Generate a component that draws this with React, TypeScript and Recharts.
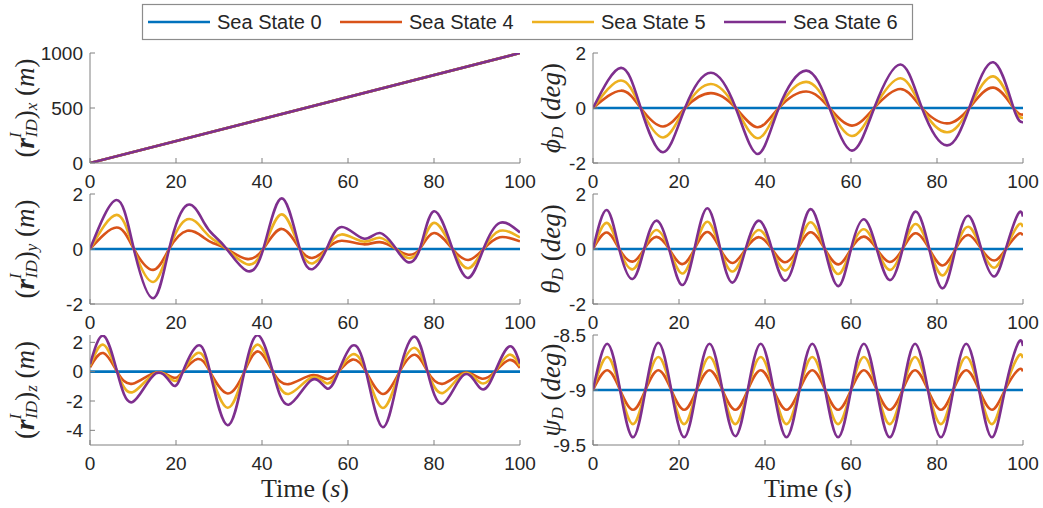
import React from 'react';
import { LineChart, Line, XAxis, YAxis } from 'recharts';

// series: sea states, MATLAB default colour order
const SERIES = [
    { name: 'Sea State 0', color: '#0072BD' },
    { name: 'Sea State 4', color: '#D95319' },
    { name: 'Sea State 5', color: '#EDB120' },
    { name: 'Sea State 6', color: '#7E2F8E' },
];

const TIME_TICKS = [0, 20, 40, 60, 80, 100];
const FLAT_T = [0, 100];

// (r_ID)_x
const X_T = [0, 100];
const X_SS0 = [0, 1000];
const X_SS4 = [0, 1000];
const X_SS5 = [0, 1000];
const X_SS6 = [0, 1000];

// (r_ID)_y
const Y_T = [0, 6.2, 10.2, 14.7, 18.4, 22.6, 26.4, 28.7, 31.8, 36.4, 40.3, 44.6, 48.8, 51.9, 55.0, 58.5, 63.6, 67.4, 71.2, 73.8, 76.7, 80.0, 84.3, 88.0, 91.5, 95.3, 100];
const Y_SS0 = [0, 0];
const Y_SS4 = [0, 0.78, 0, -0.76, 0, 0.66, 0.42, 0.21, 0, -0.36, 0, 0.73, 0, -0.32, 0, 0.3, 0.17, 0.25, 0, -0.2, 0, 0.58, 0, -0.4, 0, 0.43, 0.28];
const Y_SS5 = [0, 1.24, 0, -1.2, 0, 1.08, 0.68, 0.34, 0, -0.55, 0, 1.26, 0, -0.52, 0, 0.53, 0.27, 0.41, 0, -0.32, 0, 0.95, 0, -0.7, 0, 0.66, 0.42];
const Y_SS6 = [0, 1.78, 0, -1.79, 0, 1.6, 0.99, 0.51, 0, -0.79, 0, 1.84, 0, -0.72, 0, 0.8, 0.38, 0.58, 0, -0.47, 0, 1.37, 0, -1.05, 0, 0.95, 0.6];

// (r_ID)_z
const Z_T = [0, 3.1, 6.3, 9.9, 15.3, 19.3, 21.6, 25.0, 27.9, 32.0, 35.9, 39.1, 42.5, 46.2, 51.5, 55.1, 57.8, 61.0, 64.2, 68.1, 72.0, 75.6, 78.5, 82.1, 87.0, 91.0, 94.2, 97.5, 100];
const Z_SS0 = [0, 0];
const Z_SS4 = [0.3, 1.27, 0, -0.82, -0.05, -0.4, 0, 0.86, 0, -1.49, 0, 1.38, 0, -0.85, -0.25, -0.5, 0, 0.82, 0, -1.52, 0, 1.15, 0, -0.82, -0.07, -0.47, 0, 0.8, 0.26];
const Z_SS5 = [0.4, 1.84, 0, -1.4, -0.08, -0.6, 0, 1.27, 0, -2.46, 0, 1.84, 0, -1.52, -0.4, -0.8, 0, 1.18, 0, -2.48, 0, 1.62, 0, -1.45, -0.12, -0.78, 0, 1.15, 0.38];
const Z_SS6 = [0.5, 2.45, 0, -2.07, -0.12, -0.92, 0, 1.77, 0, -3.65, 0, 2.48, 0, -2.25, -0.57, -1.15, 0, 1.77, 0, -3.79, 0, 2.38, 0, -2.18, -0.2, -1.18, 0, 1.72, 0.55];

// phi_D
const PHI_T = [0, 6.5, 11.1, 16.3, 21.4, 27.4, 33.2, 38.3, 43.2, 49.6, 55.0, 60.2, 65.4, 71.5, 76.5, 82.3, 87.5, 93.1, 97.8, 100];
const PHI_SS0 = [0, 0];
const PHI_SS4 = [0, 0.63, 0, -0.67, 0, 0.54, 0, -0.7, 0, 0.6, 0, -0.64, 0, 0.69, 0, -0.56, 0, 0.74, 0, -0.24];
const PHI_SS5 = [0, 1.0, 0, -1.07, 0, 0.87, 0, -1.1, 0, 0.95, 0, -1.02, 0, 1.08, 0, -0.88, 0, 1.15, 0, -0.36];
const PHI_SS6 = [0, 1.46, 0, -1.61, 0, 1.28, 0, -1.67, 0, 1.36, 0, -1.55, 0, 1.58, 0, -1.36, 0, 1.66, 0, -0.52];

// theta_D
const THETA_T = [0, 3.2, 6.1, 9.2, 11.9, 14.7, 17.7, 20.7, 23.6, 26.6, 29.6, 32.5, 35.5, 38.6, 41.6, 44.6, 47.6, 50.6, 53.9, 57.1, 60.0, 63.0, 66.0, 69.0, 72.0, 75.0, 78.2, 81.3, 84.3, 87.3, 90.3, 93.3, 96.0, 98.8, 100];
const THETA_SS0 = [0, 0];
const THETA_SS4 = [0, 0.6, 0, -0.46, 0, 0.44, 0, -0.55, 0, 0.62, 0, -0.51, 0, 0.43, 0, -0.48, 0, 0.61, 0, -0.56, 0, 0.45, 0, -0.47, 0, 0.57, 0, -0.6, 0, 0.51, 0, -0.42, 0, 0.53, 0.5];
const THETA_SS5 = [0, 0.95, 0, -0.74, 0, 0.69, 0, -0.89, 0, 0.99, 0, -0.82, 0, 0.69, 0, -0.78, 0, 0.97, 0, -0.91, 0, 0.72, 0, -0.76, 0, 0.91, 0, -0.96, 0, 0.81, 0, -0.68, 0, 0.85, 0.8];
const THETA_SS6 = [0, 1.42, 0, -1.09, 0, 1.03, 0, -1.31, 0, 1.48, 0, -1.22, 0, 1.03, 0, -1.15, 0, 1.45, 0, -1.35, 0, 1.08, 0, -1.13, 0, 1.36, 0, -1.43, 0, 1.21, 0, -1.0, 0, 1.26, 1.18];

// psi_D
const PSI_T = [0, 3.3, 6.3, 9.3, 12.2, 15.2, 18.2, 21.2, 24.1, 27.1, 30.1, 33.1, 36.0, 39.0, 42.0, 45.0, 48.0, 51.0, 54.0, 57.0, 60.0, 63.0, 66.0, 69.0, 72.0, 74.9, 77.9, 80.9, 83.8, 86.8, 89.8, 92.8, 95.8, 98.8, 100];
const PSI_SS0 = [-9, -9];
const PSI_SS4 = [-9, -8.82, -9, -9.18, -9, -8.82, -9, -9.18, -9, -8.82, -9, -9.18, -9, -8.82, -9, -9.18, -9, -8.82, -9, -9.18, -9, -8.82, -9, -9.18, -9, -8.82, -9, -9.18, -9, -8.82, -9, -9.18, -9, -8.82, -8.83];
const PSI_SS5 = [-9, -8.7, -9, -9.31, -9, -8.7, -9, -9.31, -9, -8.7, -9, -9.31, -9, -8.7, -9, -9.31, -9, -8.7, -9, -9.31, -9, -8.7, -9, -9.31, -9, -8.7, -9, -9.31, -9, -8.7, -9, -9.31, -9, -8.7, -8.71];
const PSI_SS6 = [-9, -8.58, -9, -9.43, -9, -8.57, -9, -9.43, -9, -8.58, -9, -9.42, -9, -8.58, -9, -9.43, -9, -8.58, -9, -9.43, -9, -8.58, -9, -9.43, -9, -8.58, -9, -9.43, -9, -8.58, -9, -9.43, -9, -8.58, -8.6];

const TEXT = '#262626';
const AXIS = '#808080';
const SANS = 'Liberation Sans, Arial, sans-serif';
const SERIF = 'Liberation Serif, Times New Roman, serif';
const AXIS_W = 90;
const PLOT_W = 430;
const PLOT_H = 110;

const toPoints = (t: number[], v: number[]) => t.map((x, i) => ({ t: x, v: v[i] }));

const noTick = () => <g />;

const LeftLabel = ({ viewBox, sub }: any) => {
    const cx = viewBox.x + 25;
    const cy = viewBox.y + viewBox.height / 2;
    return (
        <text transform={`translate(${cx},${cy}) rotate(-90)`} textAnchor="middle" dominantBaseline="central"
            fontFamily={SERIF} fontSize={27} fill={TEXT}>
            <tspan>(</tspan>
            <tspan fontWeight="bold" fontStyle="italic">r</tspan>
            <tspan fontStyle="italic" fontSize={17} dy={-10}>I</tspan>
            <tspan fontStyle="italic" fontSize={17} dx={-5} dy={16}>ID</tspan>
            <tspan dy={-6}>)</tspan>
            <tspan fontStyle="italic" fontSize={17} dy={6}>{sub}</tspan>
            <tspan dy={-6}>{'\u00a0('}</tspan>
            <tspan fontStyle="italic">m</tspan>
            <tspan>)</tspan>
        </text>
    );
};

const RightLabel = ({ viewBox, sym }: any) => {
    const cx = viewBox.x + 48;
    const cy = viewBox.y + viewBox.height / 2;
    return (
        <text transform={`translate(${cx},${cy}) rotate(-90)`} textAnchor="middle" dominantBaseline="central"
            fontFamily={SERIF} fontSize={27} fill={TEXT}>
            <tspan fontStyle="italic">{sym}</tspan>
            <tspan fontStyle="italic" fontSize={17} dy={6}>D</tspan>
            <tspan dy={-6}>{'\u00a0('}</tspan>
            <tspan fontStyle="italic">deg</tspan>
            <tspan>)</tspan>
        </text>
    );
};

const TimeLabel = ({ viewBox }: any) => (
    <text x={viewBox.x + viewBox.width / 2} y={viewBox.y + 52} textAnchor="middle"
        fontFamily={SERIF} fontSize={26} fill={TEXT}>
        Time (<tspan fontStyle="italic">s</tspan>)
    </text>
);

interface PanelProps {
    left: number;
    top: number;
    domain: [number, number];
    ticks: number[];
    label: (p: any) => React.ReactNode;
    lines: { t: number[]; v: number[] }[];
    timeLabel?: boolean;
}

const Panel = ({ left, top, domain, ticks, label, lines, timeLabel }: PanelProps) => {
    const mt = 12;
    const mr = 20;
    const xh = timeLabel ? 62 : 30;
    return (
        <div style={{ position: 'absolute', left: left - AXIS_W, top: top - mt }}>
            <LineChart width={AXIS_W + PLOT_W + mr} height={mt + PLOT_H + xh}
                margin={{ top: mt, right: mr, bottom: 0, left: 0 }}>
                <XAxis type="number" dataKey="t" domain={[0, 100]} ticks={TIME_TICKS} interval={0}
                    allowDataOverflow height={xh} tickSize={-5} tickMargin={17} stroke={AXIS}
                    tick={{ fill: TEXT, fontSize: 19, fontFamily: SANS }}
                    label={timeLabel ? (p: any) => <TimeLabel {...p} /> : undefined} />
                <XAxis xAxisId="top" orientation="top" type="number" dataKey="t" domain={[0, 100]}
                    ticks={TIME_TICKS} interval={0} height={0} tickSize={-5} tick={noTick} stroke={AXIS} />
                <YAxis type="number" domain={domain} ticks={ticks} interval={0} allowDataOverflow
                    width={AXIS_W} tickSize={-5} tickMargin={12} stroke={AXIS}
                    tick={{ fill: TEXT, fontSize: 19, fontFamily: SANS }} label={label} />
                <YAxis yAxisId="right" orientation="right" type="number" domain={domain} ticks={ticks}
                    interval={0} width={0} tickSize={-5} tick={noTick} stroke={AXIS} />
                {lines.map((l, i) => (
                    <Line key={SERIES[i].name} data={toPoints(l.t, l.v)} dataKey="v" name={SERIES[i].name}
                        type="natural" stroke={SERIES[i].color} strokeWidth={2.6} dot={false}
                        isAnimationActive={false} />
                ))}
            </LineChart>
        </div>
    );
};

const LegendBox = () => (
    <svg width={1043} height={44} style={{ position: 'absolute', left: 0, top: 0 }}>
        <rect x={142.5} y={4.5} width={770} height={35} fill="#fff" stroke="#8c8c8c" strokeWidth={1.2} />
        {SERIES.map((s, i) => {
            const x0 = 148 + i * 192;
            return (
                <g key={s.name}>
                    <line x1={x0} x2={x0 + 62} y1={22} y2={22} stroke={s.color} strokeWidth={2.6} />
                    <text x={x0 + 69} y={29} fontFamily={SANS} fontSize={20} fill={TEXT}>{s.name}</text>
                </g>
            );
        })}
    </svg>
);

export default function App() {
    const L = 90;
    const R = 593;
    const ROWS = [53, 194, 335];
    return (
        <div style={{ position: 'absolute', left: 0, top: 0, width: 1043, height: 508, background: '#fff' }}>
            <LegendBox />
            <Panel left={L} top={ROWS[0]} domain={[0, 1000]} ticks={[0, 500, 1000]}
                label={(p: any) => <LeftLabel {...p} sub="x" />}
                lines={[{ t: X_T, v: X_SS0 }, { t: X_T, v: X_SS4 }, { t: X_T, v: X_SS5 }, { t: X_T, v: X_SS6 }]} />
            <Panel left={L} top={ROWS[1]} domain={[-2, 2]} ticks={[-2, 0, 2]}
                label={(p: any) => <LeftLabel {...p} sub="y" />}
                lines={[{ t: FLAT_T, v: Y_SS0 }, { t: Y_T, v: Y_SS4 }, { t: Y_T, v: Y_SS5 }, { t: Y_T, v: Y_SS6 }]} />
            <Panel left={L} top={ROWS[2]} domain={[-5, 2.5]} ticks={[-4, -2, 0, 2]} timeLabel
                label={(p: any) => <LeftLabel {...p} sub="z" />}
                lines={[{ t: FLAT_T, v: Z_SS0 }, { t: Z_T, v: Z_SS4 }, { t: Z_T, v: Z_SS5 }, { t: Z_T, v: Z_SS6 }]} />
            <Panel left={R} top={ROWS[0]} domain={[-2, 2]} ticks={[-2, 0, 2]}
                label={(p: any) => <RightLabel {...p} sym={'\u03d5'} />}
                lines={[{ t: FLAT_T, v: PHI_SS0 }, { t: PHI_T, v: PHI_SS4 }, { t: PHI_T, v: PHI_SS5 }, { t: PHI_T, v: PHI_SS6 }]} />
            <Panel left={R} top={ROWS[1]} domain={[-2, 2]} ticks={[-2, 0, 2]}
                label={(p: any) => <RightLabel {...p} sym={'\u03b8'} />}
                lines={[{ t: FLAT_T, v: THETA_SS0 }, { t: THETA_T, v: THETA_SS4 }, { t: THETA_T, v: THETA_SS5 }, { t: THETA_T, v: THETA_SS6 }]} />
            <Panel left={R} top={ROWS[2]} domain={[-9.5, -8.5]} ticks={[-9.5, -9, -8.5]} timeLabel
                label={(p: any) => <RightLabel {...p} sym={'\u03c8'} />}
                lines={[{ t: FLAT_T, v: PSI_SS0 }, { t: PSI_T, v: PSI_SS4 }, { t: PSI_T, v: PSI_SS5 }, { t: PSI_T, v: PSI_SS6 }]} />
        </div>
    );
}
